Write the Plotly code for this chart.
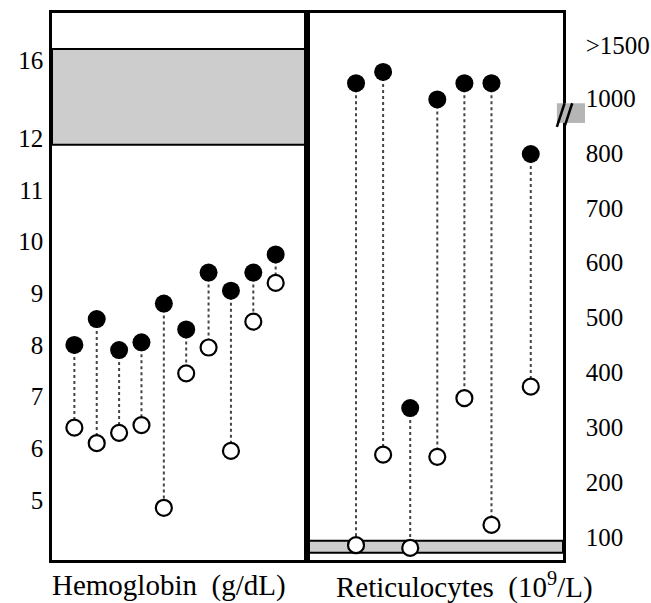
import plotly.graph_objects as go

# ---- data ----
hb_filled = [8.0, 8.5, 7.9, 8.05, 8.8, 8.3, 9.4, 9.05, 9.4, 9.75]
hb_open = [6.4, 6.1, 6.3, 6.45, 4.85, 7.45, 7.95, 5.95, 8.45, 9.2]
hb_ticks = [5, 6, 7, 8, 9, 10, 11, 12, 16]
hb_normal = [12, 16.6]

retic_filled = [1140, 1245, 335, 995, 1140, 1140, 798]
retic_open = [85, 250, 80, 246, 353, 122, 374]
retic_x = [1, 2, 3, 4, 5, 6, 7.45]
retic_ticks = [100, 200, 300, 400, 500, 600, 700, 800, 1000, 1500]
retic_tick_text = ["100", "200", "300", "400", "500", "600", "700", "800", "1000", ">1500"]
retic_normal = [71, 93]


# broken-axis transforms
def hb_pos(v):
    return v if v <= 12 else 12 + (v - 12) * 0.375


def retic_pos(v):
    if v <= 800:
        return v
    if v <= 1000:
        return 800 + (v - 800) * 0.5
    return 900 + (v - 1000) * 0.194


FONT = "Liberation Serif"
hb_x = list(range(1, len(hb_filled) + 1))

fig = go.Figure()


def stems(xs, a, b, xa, ya):
    sx, sy = [], []
    for x, p, q in zip(xs, a, b):
        sx += [x, x, None]
        sy += [p, q, None]
    return go.Scatter(x=sx, y=sy, mode="lines", xaxis=xa, yaxis=ya,
                      line=dict(color="#444", width=2, dash="dot"),
                      hoverinfo="skip", showlegend=False)


hf = [hb_pos(v) for v in hb_filled]
ho = [hb_pos(v) for v in hb_open]
rf = [retic_pos(v) for v in retic_filled]
ro = [retic_pos(v) for v in retic_open]

fig.add_trace(stems(hb_x, hf, ho, "x", "y"))
fig.add_trace(stems(retic_x, rf, ro, "x2", "y2"))

for xs, f, o, xa, ya in [(hb_x, hf, ho, "x", "y"), (retic_x, rf, ro, "x2", "y2")]:
    fig.add_trace(go.Scatter(x=xs, y=o, mode="markers", xaxis=xa, yaxis=ya,
                             marker=dict(size=16, color="white",
                                         line=dict(color="black", width=2.2)),
                             showlegend=False))
    fig.add_trace(go.Scatter(x=xs, y=f, mode="markers", xaxis=xa, yaxis=ya,
                             marker=dict(size=18, color="black",
                                         line=dict(color="black", width=0)),
                             showlegend=False))

shapes = [
    dict(type="rect", xref="x domain", yref="y", x0=0, x1=1,
         y0=hb_pos(hb_normal[0]) - 0.13, y1=hb_pos(hb_normal[1]),
         fillcolor="#cdcdcd", line=dict(color="black", width=2), layer="below"),
    dict(type="rect", xref="x2 domain", yref="y2", x0=0, x1=1,
         y0=retic_normal[0], y1=retic_normal[1],
         fillcolor="#cdcdcd", line=dict(color="black", width=2), layer="below"),
    # break marker on right axis
    dict(type="rect", xref="paper", yref="paper", x0=0.988, x1=1.043, y0=0.799, y1=0.835,
         fillcolor="#b5b5b5", line=dict(width=0), layer="above"),
    dict(type="line", xref="paper", yref="paper", x0=0.988, x1=1.003, y0=0.792, y1=0.835,
         line=dict(color="black", width=2.5), layer="above"),
    dict(type="line", xref="paper", yref="paper", x0=1.003, x1=1.018, y0=0.792, y1=0.835,
         line=dict(color="black", width=2.5), layer="above"),
]

ax_common = dict(showgrid=False, zeroline=False, showline=True, linecolor="black",
                 linewidth=2.5, mirror=True, automargin=False)

fig.update_layout(
    width=651, height=603,
    margin=dict(l=52, r=88, t=13, b=43),
    paper_bgcolor="white", plot_bgcolor="white",
    font=dict(family=FONT, color="black"),
    showlegend=False,
    shapes=shapes,
    xaxis=dict(domain=[0, 0.499], range=[0, 11.4], showticklabels=False, ticks="",
               **ax_common),
    xaxis2=dict(domain=[0.499, 1], range=[-0.81, 8.64], showticklabels=False, ticks="",
                anchor="y2", **ax_common),
    yaxis=dict(range=[3.84, 14.42], tickvals=[hb_pos(v) for v in hb_ticks],
               ticktext=[str(v) for v in hb_ticks], ticks="outside", ticklen=1,
               tickcolor="rgba(0,0,0,0)", tickfont=dict(size=25, family=FONT),
               anchor="x", **ax_common),
    yaxis2=dict(range=[58, 1055], tickvals=[retic_pos(v) for v in retic_ticks],
                ticktext=retic_tick_text, ticks="outside", ticklen=15, side="right",
                tickcolor="rgba(0,0,0,0)", tickfont=dict(size=25, family=FONT),
                anchor="x2", **ax_common),
    annotations=[
        dict(text="Hemoglobin  (g/dL)", xref="paper", yref="paper", x=0.228, y=-0.046,
             showarrow=False, font=dict(size=29, family=FONT), xanchor="center",
             yanchor="middle"),
        dict(text="Reticulocytes  (10<sup>9</sup>/L)", xref="paper", yref="paper",
             x=0.808, y=-0.046, showarrow=False, font=dict(size=29, family=FONT),
             xanchor="center", yanchor="middle"),
    ],
)

fig.write_html("out.html", config={"displayModeBar": False},
               post_script="document.body.style.margin='0';")
